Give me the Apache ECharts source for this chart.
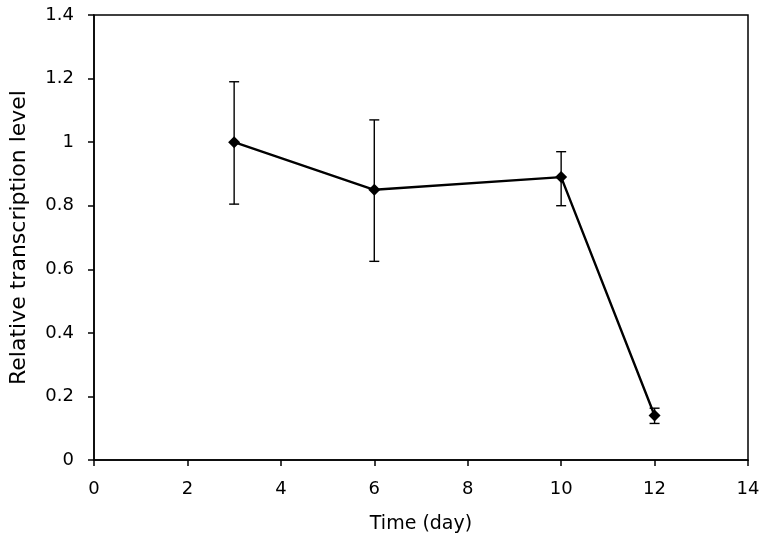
<!DOCTYPE html>
<html><head><meta charset="utf-8">
<script src="https://cdn.jsdelivr.net/npm/echarts@6/dist/echarts.min.js"></script>
<style>html,body{margin:0;padding:0;background:#fff}#c{width:768px;height:540px}</style>
</head><body><div id="c"></div>
<script>
const days = [3, 6, 10, 12];
const values = [1.0, 0.85, 0.89, 0.14];
const errLow = [0.805, 0.625, 0.80, 0.115];
const errHigh = [1.19, 1.07, 0.97, 0.163];
const xTicks = [0, 2, 4, 6, 8, 10, 12, 14];
const yTicks = [0, 0.2, 0.4, 0.6, 0.8, 1, 1.2, 1.4];

const chart = echarts.init(document.getElementById('c'));
const font = 'DejaVu Sans, Liberation Sans, Arial, sans-serif';
chart.setOption({
  animation: false,
  grid: {left: 93, right: 20, top: 15, bottom: 80, show: true, borderColor: '#000', borderWidth: 1.5},
  xAxis: {
    type: 'value', min: 0, max: 14, interval: 2,
    name: 'Time (day)', nameLocation: 'middle', nameGap: 55,
    nameTextStyle: {fontFamily: font, fontSize: 19, color: '#000'},
    axisLine: {show: true, lineStyle: {color: '#000', width: 1.5}},
    axisTick: {show: true, length: 6, lineStyle: {color: '#000', width: 1.5}},
    axisLabel: {fontFamily: font, fontSize: 18, color: '#000', margin: 20,
      formatter: v => xTicks.includes(v) ? String(v) : ''},
    splitLine: {show: false}
  },
  yAxis: {
    type: 'value', min: 0, max: 1.4, interval: 0.2,
    name: 'Relative transcription level', nameLocation: 'middle', nameGap: 64,
    nameTextStyle: {fontFamily: font, fontSize: 22, color: '#000'},
    axisLine: {show: true, lineStyle: {color: '#000', width: 1.5}},
    axisTick: {show: true, length: 6, lineStyle: {color: '#000', width: 1.5}},
    axisLabel: {fontFamily: font, fontSize: 18, color: '#000', margin: 20,
      formatter: v => { const r = Math.round(v*10)/10; return yTicks.includes(r) ? String(r) : ''; }},
    splitLine: {show: false}
  },
  series: [
    {
      type: 'custom',
      data: days.map((d, i) => [d, errLow[i], errHigh[i]]),
      renderItem: function (params, api) {
        const x = api.value(0);
        const lo = api.coord([x, api.value(1)]);
        const hi = api.coord([x, api.value(2)]);
        const w = 5;
        const st = {stroke: '#000', lineWidth: 1.4};
        return {type: 'group', children: [
          {type: 'line', shape: {x1: lo[0], y1: lo[1], x2: hi[0], y2: hi[1]}, style: st},
          {type: 'line', shape: {x1: lo[0]-w, y1: lo[1], x2: lo[0]+w, y2: lo[1]}, style: st},
          {type: 'line', shape: {x1: hi[0]-w, y1: hi[1], x2: hi[0]+w, y2: hi[1]}, style: st}
        ]};
      },
      z: 2
    },
    {
      type: 'line',
      data: days.map((d, i) => [d, values[i]]),
      symbol: 'diamond', symbolSize: 12,
      itemStyle: {color: '#000'},
      lineStyle: {color: '#000', width: 2.4},
      z: 3
    }
  ]
});
</script></body></html>
